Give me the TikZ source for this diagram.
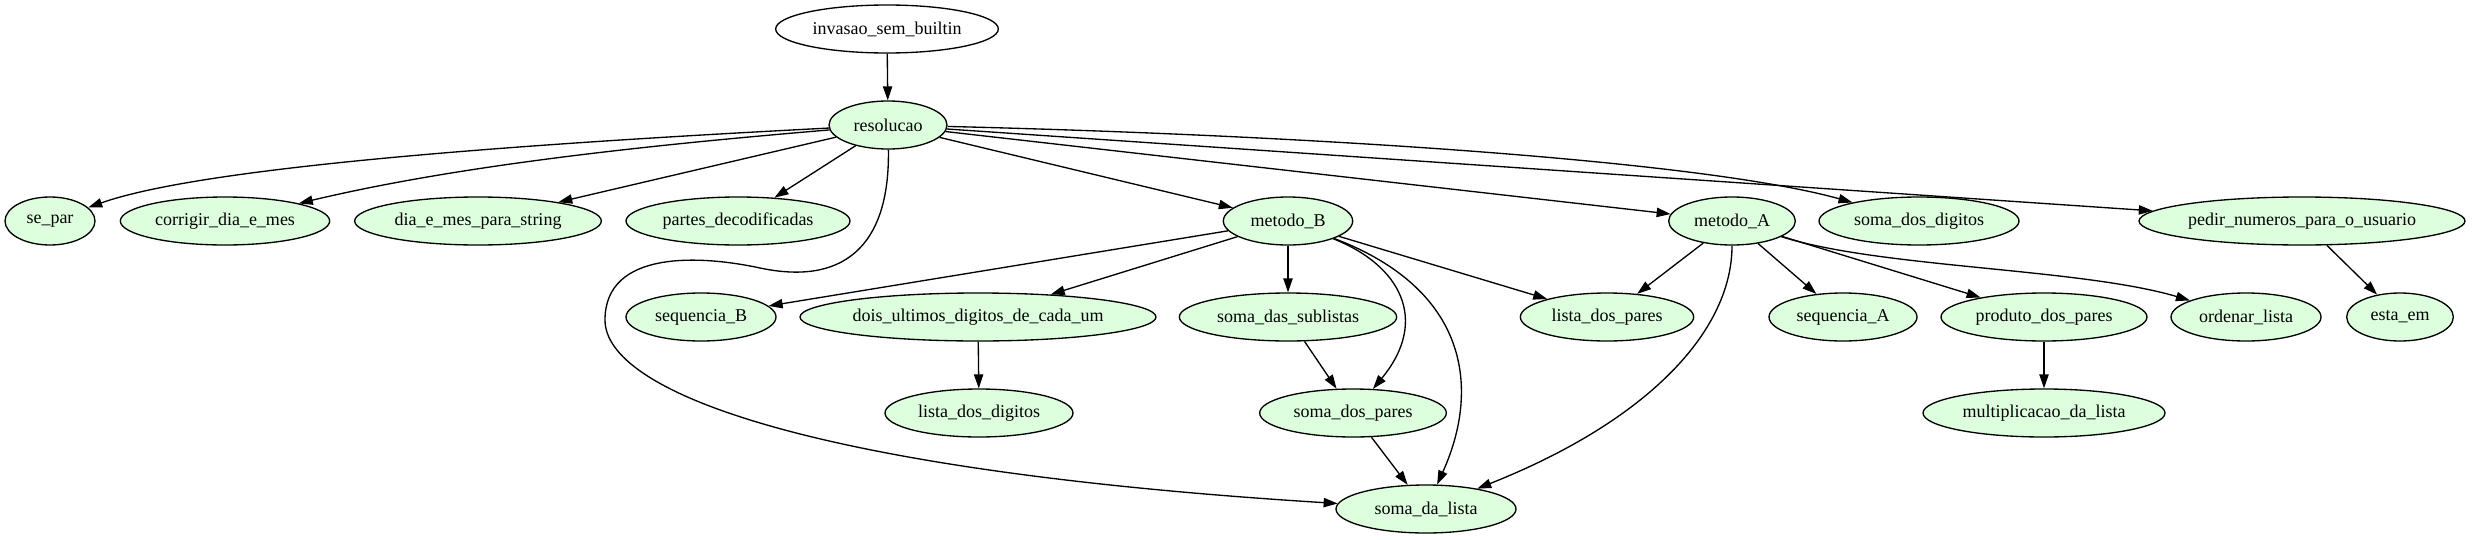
\documentclass[tikz,border=0pt]{standalone}
\usepackage{fontspec}
\setmainfont{Liberation Serif}
\usetikzlibrary{arrows.meta,shapes.geometric}
\definecolor{FuncFill}{HTML}{DDFFDD}
\definecolor{EdgeBlack}{HTML}{000000}

\begin{document}
\begin{tikzpicture}[x=0.75pt,y=-0.75pt, line join=round,
  >={Triangle[length=10.5pt,width=7pt]},
  func/.style={ellipse, draw=black, line width=1pt, fill=FuncFill, minimum height=36pt,
               inner ysep=0pt, inner xsep=-4pt, font=\fontsize{13.5}{16}\selectfont},
  conn/.style={->, EdgeBlack, line width=1pt}]

\useasboundingbox (0,0) rectangle (2472,539);

% root
\node[func, fill=white, minimum width=167pt] (invasao) at (887,29) {invasao\_sem\_builtin};
\node[func, minimum width=88.5pt] (resolucao) at (888,125) {resolucao};

% row 1
\node[func, minimum width=67.5pt] (sePar) at (50,221) {se\_par};
\node[func, minimum width=157pt] (corrigir) at (225,221) {corrigir\_dia\_e\_mes};
\node[func, minimum width=185pt] (diaMes) at (478,221) {dia\_e\_mes\_para\_string};
\node[func, minimum width=168pt] (partes) at (738,221) {partes\_decodificadas};
\node[func, minimum width=97pt] (metodoB) at (1288,221) {metodo\_B};
\node[func, minimum width=95pt] (metodoA) at (1732,221) {metodo\_A};
\node[func, minimum width=150pt] (somaDigitos) at (1919,221) {soma\_dos\_digitos};
\node[func, minimum width=244.5pt] (pedir) at (2302,221) {pedir\_numeros\_para\_o\_usuario};

% row 2
\node[func, minimum width=112.5pt] (seqB) at (701,317) {sequencia\_B};
\node[func, minimum width=267pt] (doisUltimos) at (978,317) {dois\_ultimos\_digitos\_de\_cada\_um};
\node[func, minimum width=163pt] (somaSublistas) at (1288,317) {soma\_das\_sublistas};
\node[func, minimum width=130pt] (listaPares) at (1607,317) {lista\_dos\_pares};
\node[func, minimum width=111pt] (seqA) at (1843,317) {sequencia\_A};
\node[func, minimum width=154.5pt] (produto) at (2044,317) {produto\_dos\_pares};
\node[func, minimum width=112.5pt] (ordenar) at (2246,317) {ordenar\_lista};
\node[func, minimum width=80pt] (estaEm) at (2400,317) {esta\_em};

% row 3
\node[func, minimum width=141pt] (listaDigitos) at (979,413) {lista\_dos\_digitos};
\node[func, minimum width=140pt] (somaPares) at (1353,413) {soma\_dos\_pares};
\node[func, minimum width=181.5pt] (multiplicacao) at (2044,413) {multiplicacao\_da\_lista};

% row 4
\node[func, minimum width=135pt] (somaLista) at (1426,509) {soma\_da\_lista};

% edges from the root
\draw[conn] (invasao) -- (resolucao);
\draw[conn] (resolucao) .. controls (500,145) and (200,168) .. (sePar);
\draw[conn] (resolucao) .. controls (650,145) and (460,165) .. (corrigir);
\draw[conn] (resolucao) -- (diaMes);
\draw[conn] (resolucao) -- (partes);
\draw[conn] (resolucao) -- (metodoB);
\draw[conn] (resolucao) -- (metodoA);
\draw[conn] (resolucao) .. controls (1300,135) and (1700,160) .. (somaDigitos);
\draw[conn] (resolucao) -- (pedir);
\draw[conn] (resolucao) .. controls (890,250) and (840,285) .. (760,268)
  .. controls (700,255) and (605,250) .. (605,320)
  .. controls (605,390) and (800,470) .. (somaLista);

% metodo_B
\draw[conn] (metodoB) -- (seqB);
\draw[conn] (metodoB) -- (doisUltimos);
\draw[conn] (metodoB) -- (somaSublistas);
\draw[conn] (metodoB) .. controls (1400,265) and (1430,320) .. (somaPares);
\draw[conn] (metodoB) .. controls (1470,290) and (1480,390) .. (somaLista);
\draw[conn] (metodoB) -- (listaPares);

% metodo_A
\draw[conn] (metodoA) -- (listaPares);
\draw[conn] (metodoA) -- (seqA);
\draw[conn] (metodoA) -- (produto);
\draw[conn] (metodoA) .. controls (1880,268) and (2080,268) .. (ordenar);
\draw[conn] (metodoA) .. controls (1732,330) and (1650,420) .. (somaLista);

% lower levels
\draw[conn] (pedir) -- (estaEm);
\draw[conn] (doisUltimos) -- (listaDigitos);
\draw[conn] (somaSublistas) -- (somaPares);
\draw[conn] (somaPares) -- (somaLista);
\draw[conn] (produto) -- (multiplicacao);

\end{tikzpicture}
\end{document}
